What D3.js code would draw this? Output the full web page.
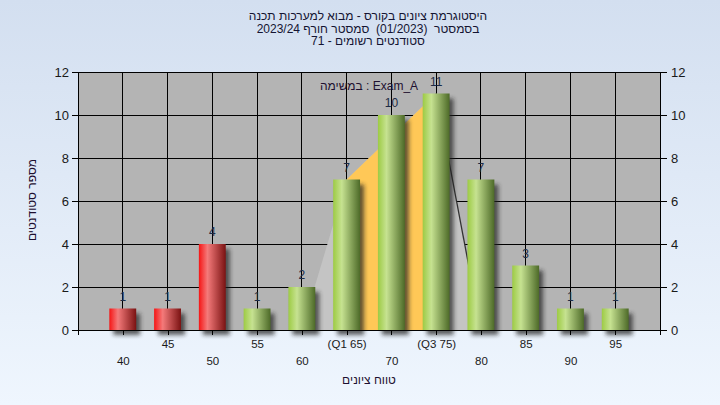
<!DOCTYPE html>
<html>
<head>
<meta charset="utf-8">
<script src="https://cdn.jsdelivr.net/npm/d3@7"></script>
<style>
  html, body { margin: 0; padding: 0; }
  body { width: 720px; height: 405px; overflow: hidden; }
  svg text { font-family: "Liberation Sans", Arial, sans-serif; }
</style>
</head>
<body>
<svg id="chart" width="720" height="405"></svg>
<script>
// ---- data ----
const categories = ["40","45","50","55","60","65","70","75","80","85","90","95"];
const tickLabels = ["40","45","50","55","60","(Q1 65)","70","(Q3 75)","80","85","90","95"];
const counts = [1,1,4,1,2,7,10,11,7,3,1,1];
const failing = ["40","45","50"];
const yTicks = [0,2,4,6,8,10,12];
const q1 = "65", q3 = "75";
const titleLines = [
  "היסטוגרמת ציונים בקורס - מבוא למערכות תכנה",
  "בסמסטר  (01/2023)  סמסטר חורף 2023/24",
  "סטודנטים רשומים - 71"
];
const legendText = "במשימה : Exam_A";
const xTitle = "טווח ציונים";
const yTitle = "מספר סטודנטים";

// ---- layout ----
const W = 720, H = 405;
const plot = {l: 78, r: 660, t: 72, b: 330};
const svg = d3.select("#chart");
const defs = svg.append("defs");

const bg = defs.append("linearGradient").attr("id","bg").attr("x1",0).attr("y1",0).attr("x2",0).attr("y2",1);
bg.append("stop").attr("offset","0%").attr("stop-color","#d3dff0");
bg.append("stop").attr("offset","100%").attr("stop-color","#eff6fe");

function barGrad(id, c0, c1, c2) {
  const g = defs.append("linearGradient").attr("id",id).attr("x1",0).attr("y1",0).attr("x2",1).attr("y2",0);
  g.append("stop").attr("offset","0%").attr("stop-color",c0);
  g.append("stop").attr("offset","32%").attr("stop-color",c1);
  g.append("stop").attr("offset","100%").attr("stop-color",c2);
}
barGrad("gGreen", "#9dcb44", "#c6e291", "#4d6a28");
barGrad("gRed", "#f51515", "#f47a7a", "#7a1212");

const blur = defs.append("filter").attr("id","shadow").attr("x","-50%").attr("y","-50%").attr("width","200%").attr("height","200%");
blur.append("feGaussianBlur").attr("stdDeviation", 2);

svg.append("rect").attr("width",W).attr("height",H).attr("fill","url(#bg)");

const x = d3.scalePoint().domain(categories).range([plot.l, plot.r]).padding(1);
const y = d3.scaleLinear().domain([0, 12]).range([plot.b, plot.t]);
const bw = x.step() * 0.6;

// plot background
svg.append("rect").attr("x",plot.l).attr("y",plot.t)
  .attr("width",plot.r-plot.l).attr("height",plot.b-plot.t).attr("fill","#b4b4b4");

// grid
svg.append("g").selectAll("line").data(yTicks.filter(d => d > 0)).join("line")
  .attr("x1",plot.l).attr("x2",plot.r).attr("y1",d=>y(d)).attr("y2",d=>y(d))
  .attr("stroke","#000").attr("stroke-width",1).attr("shape-rendering","crispEdges");
svg.append("g").selectAll("line").data(categories).join("line")
  .attr("x1",d=>x(d)).attr("x2",d=>x(d)).attr("y1",plot.t).attr("y2",plot.b)
  .attr("stroke","#000").attr("stroke-width",1).attr("shape-rendering","crispEdges");

// quartile area
const iQ1 = categories.indexOf(q1), iQ3 = categories.indexOf(q3);
const before = categories[iQ1 - 1], after = categories[iQ3 + 1];
const outer = [[x(before), y(0)], [x(q1), y(counts[iQ1])], [x(q3), y(counts[iQ3])], [x(after), y(0)]];
svg.append("path").attr("d", d3.line()(outer) + "Z").attr("fill", "#c4c4c4");
const inner = [[x(q1), y(0)], [x(q1), y(counts[iQ1])], [x(q3), y(counts[iQ3])], [x(q3), y(0)]];
svg.append("path").attr("d", d3.line()(inner) + "Z").attr("fill", "#ffc857");
svg.append("line").attr("x1", x(q3)).attr("y1", y(counts[iQ3])).attr("x2", x(after)).attr("y2", y(0))
  .attr("stroke", "#333").attr("stroke-width", 1.3);

// bars
const data = categories.map((c,i) => ({c, v: counts[i], tick: tickLabels[i], i}));
svg.append("g").selectAll("rect").data(data).join("rect")
  .attr("x", d => x(d.c) - bw/2 + 4).attr("y", d => y(d.v) + 5)
  .attr("width", bw).attr("height", d => y(0) - y(d.v))
  .attr("fill", "#202020").attr("opacity", 0.7).attr("filter","url(#shadow)");
svg.append("g").selectAll("rect").data(data).join("rect")
  .attr("x", d => x(d.c) - bw/2).attr("y", d => y(d.v))
  .attr("width", bw).attr("height", d => y(0) - y(d.v))
  .attr("fill", d => failing.includes(d.c) ? "url(#gRed)" : "url(#gGreen)");

// value labels
svg.append("g").selectAll("text").data(data).join("text")
  .attr("x", d => x(d.c)).attr("y", d => y(d.v) - 8)
  .attr("text-anchor","middle").attr("font-size", 12).attr("fill","#1c2b45")
  .text(d => d.v);

// axes
const fontCol = "#1a1a1a";
const gl = svg.append("g").attr("transform",`translate(${plot.l},0)`)
  .call(d3.axisLeft(y).tickValues(yTicks).tickSize(6).tickSizeOuter(0).tickPadding(3));
const gr = svg.append("g").attr("transform",`translate(${plot.r},0)`)
  .call(d3.axisRight(y).tickValues(yTicks).tickSize(7).tickSizeOuter(0).tickPadding(4));
const gb = svg.append("g").attr("transform",`translate(0,${plot.b})`)
  .call(d3.axisBottom(x).tickSize(5).tickSizeOuter(5).tickFormat((d,i) => tickLabels[i]));
[gl, gr, gb].forEach(g => {
  g.selectAll("path,line").attr("stroke","#000").attr("shape-rendering","crispEdges");
  g.selectAll("text").attr("fill",fontCol).attr("font-family","Liberation Sans, Arial, sans-serif");
});
gl.selectAll("text").attr("font-size", 13);
gr.selectAll("text").attr("font-size", 13);
gb.selectAll("text").attr("font-size", 11.5)
  .attr("y", (d,i) => i % 2 === 1 ? 10 : 27);

function addText(cx, cy, str, color) {
  return svg.append("text").attr("x", cx).attr("y", cy)
    .attr("text-anchor","middle").attr("font-size", 12).attr("fill", color)
    .style("white-space","pre").text(str);
}

// titles
titleLines.forEach((line, i) => addText(368, 20 + i*12.5, line, "#141432"));

// legend
addText(369, 90, legendText, "#1e1030");

// axis titles
addText(369, 384, xTitle, "#1e1030");
svg.append("text").attr("transform","translate(36,200) rotate(-90)")
  .attr("text-anchor","middle").attr("font-size", 12).attr("fill","#1e1030").text(yTitle);
</script>
</body>
</html>
